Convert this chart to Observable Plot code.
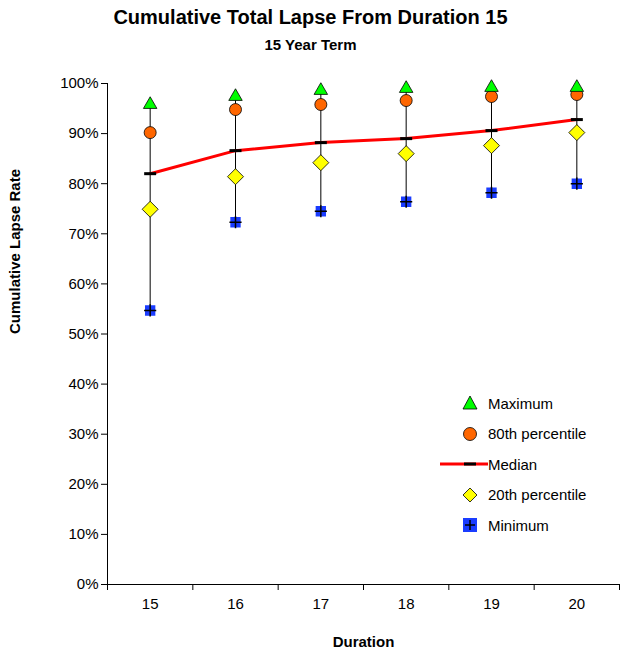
<!DOCTYPE html>
<html><head><meta charset="utf-8">
<script src="https://cdn.jsdelivr.net/npm/d3@7"></script>
<script src="https://cdn.jsdelivr.net/npm/@observablehq/plot@0.6"></script>
<style>
body{margin:0;font-family:Arial,"Liberation Sans",sans-serif;background:#fff;width:621px;height:658px;position:relative;overflow:hidden}
#t{position:absolute;top:6px;left:0;width:621px;text-align:center;font-weight:bold;font-size:20px}
#s{position:absolute;top:36px;left:0;width:621px;text-align:center;font-weight:bold;font-size:15px}
#chart{position:absolute;top:60px;left:0}
#legend{position:absolute;left:452px;top:388px;font-size:15px}
#legend div{height:30.5px;display:flex;align-items:center}
#legend svg{width:36px;height:20px;margin-right:0}
</style></head><body>
<div id="t">Cumulative Total Lapse From Duration 15</div>
<div id="s">15 Year Term</div>
<div id="chart"></div>
<div id="legend"></div>
<script>
const durations = [15, 16, 17, 18, 19, 20];
const maximum = [95.8, 97.4, 98.6, 99.0, 99.2, 99.2];
const p80 = [90.2, 94.8, 95.8, 96.6, 97.4, 97.8];
const median = [82.0, 86.6, 88.2, 89.0, 90.6, 92.8];
const p20 = [74.9, 81.4, 84.2, 86.0, 87.6, 90.2];
const minimum = [54.7, 72.3, 74.5, 76.4, 78.2, 80.0];

const rows = durations.map((d, i) => ({d, max: maximum[i], p80: p80[i], med: median[i], p20: p20[i], min: minimum[i]}));

// short horizontal dash for the median marker
const dash = {draw(ctx, size) { const r = Math.sqrt(size / Math.PI); ctx.moveTo(-r, 0); ctx.lineTo(r, 0); }};
// square rotated 45 degrees
const rhomb = {draw(ctx, size) { const r = Math.sqrt(size / Math.PI); ctx.moveTo(0, -r); ctx.lineTo(r, 0); ctx.lineTo(0, r); ctx.lineTo(-r, 0); ctx.closePath(); }};

const chart = Plot.plot({
  width: 621, height: 598,
  marginTop: 23, marginBottom: 74, marginLeft: 107, marginRight: 2,
  style: {fontFamily: "Arial, 'Liberation Sans', sans-serif", fontSize: "15px", color: "#000"},
  x: {domain: [14.5, 20.5]},
  y: {domain: [0, 100]},
  marks: [
    Plot.axisY({ticks: d3.range(0, 101, 10), tickFormat: d => d + "%", tickSize: 6, label: null, fontSize: 15}),
    Plot.axisX({ticks: durations, tickFormat: d => String(d), tickSize: 0, tickPadding: 14, label: null, fontSize: 15}),
    Plot.axisX({ticks: d3.range(14.5, 21, 1), tickSize: 6, tickFormat: () => "", label: null}),
    Plot.ruleX([14.5], {stroke: "#000", strokeOpacity: 1}),
    Plot.ruleY([0], {stroke: "#000"}),
    Plot.text(["Cumulative Lapse Rate"], {frameAnchor: "left", dx: -92, rotate: -90, fontWeight: "bold", fontSize: 15}),
    Plot.text(["Duration"], {frameAnchor: "bottom", dy: 62, fontWeight: "bold", fontSize: 15}),
    Plot.ruleX(rows, {x: "d", y1: "min", y2: "max", stroke: "#000", strokeWidth: 1}),
    Plot.line(rows, {x: "d", y: "med", stroke: "#ff0000", strokeWidth: 3}),
    Plot.dot(rows, {x: "d", y: "med", symbol: dash, r: 6, stroke: "#000", strokeWidth: 3}),
    Plot.dot(rows, {x: "d", y: "min", symbol: "square", r: 5, fill: "#1a3cff", stroke: "#1a3cff"}),
    Plot.dot(rows, {x: "d", y: "min", symbol: "plus", r: 4, stroke: "#000", strokeWidth: 1.5}),
    Plot.dot(rows, {x: "d", y: "p20", symbol: rhomb, r: 8, fill: "#ffff00", stroke: "#000", strokeWidth: 0.8}),
    Plot.dot(rows, {x: "d", y: "p80", symbol: "circle", r: 6, fill: "#ff6600", stroke: "#000", strokeWidth: 0.8}),
    Plot.dot(rows, {x: "d", y: "max", symbol: "triangle", r: 5, fill: "#00ff00", stroke: "#000", strokeWidth: 0.8})
  ]
});
document.getElementById("chart").append(chart);

const legendItems = [
  ["Maximum", '<path d="M18,3 L25,16 L11,16 Z" fill="#00ff00" stroke="#000" stroke-width="0.8"/>'],
  ["80th percentile", '<circle cx="18" cy="10" r="6.5" fill="#ff6600" stroke="#000" stroke-width="0.8"/>'],
  ["Median", '<line x1="-12" x2="36" y1="10" y2="10" stroke="#ff0000" stroke-width="3"/><line x1="12" x2="24" y1="10" y2="10" stroke="#000" stroke-width="3"/>'],
  ["20th percentile", '<path d="M18,3 L25,10 L18,17 L11,10 Z" fill="#ffff00" stroke="#000" stroke-width="0.8"/>'],
  ["Minimum", '<rect x="11" y="3" width="14" height="14" fill="#1a3cff"/><path d="M18,5 V15 M13,10 H23" stroke="#000" stroke-width="1.5"/>']
];
const lg = document.getElementById("legend");
legendItems.forEach(([label, sym]) => {
  const div = document.createElement("div");
  div.innerHTML = `<svg viewBox="0 0 36 20" style="overflow:visible">${sym}</svg><span>${label}</span>`;
  lg.append(div);
});
</script>
</body></html>
